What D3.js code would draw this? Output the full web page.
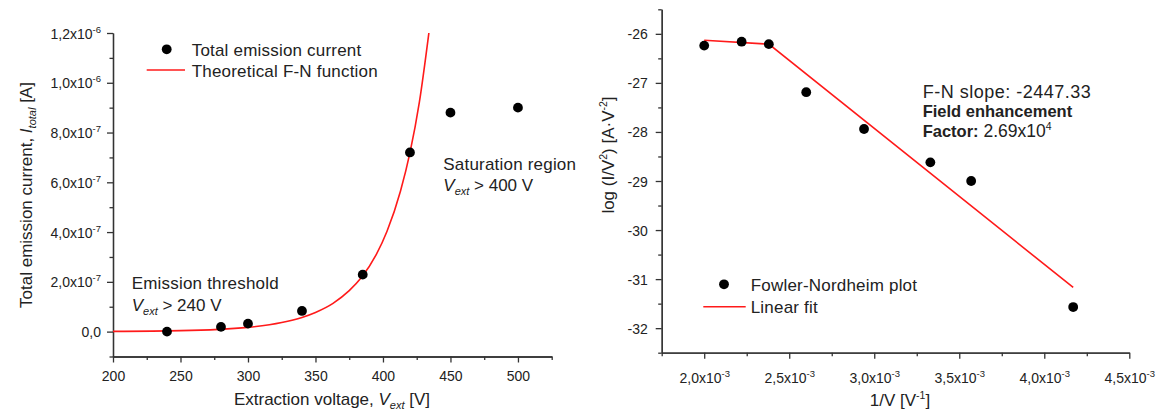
<!DOCTYPE html>
<html>
<head>
<meta charset="utf-8">
<script src="https://cdn.jsdelivr.net/npm/d3@7"></script>
<style>
  html, body { margin: 0; padding: 0; background: #fff; }
  svg { display: block; font-family: "Liberation Sans", Arial, sans-serif; }
  .axis path, .axis line { stroke: #333; stroke-width: 1.3; }
  .axis text { fill: #222; font-size: 14px; font-family: "Liberation Sans", Arial, sans-serif; }
  .lbl { fill: #222; font-size: 17px; }
</style>
</head>
<body>
<svg id="chart" width="1166" height="419"></svg>
<script>
// ---------- Left panel data ----------
const voltage = [240, 280, 300, 340, 385, 420, 450, 500];
const current = [0, 1.9e-8, 3.2e-8, 8.3e-8, 2.29e-7, 7.2e-7, 8.8e-7, 9.0e-7];
// theoretical F-N curve
const fnCurveV = [200, 250, 300, 325, 340, 350, 363, 375, 384, 395, 403, 413, 420, 427, 434];
const fnCurveI = [8.4e-10, 3.8e-9, 1.72e-8, 3.64e-8, 5.71e-8, 7.72e-8, 1.137e-7, 1.644e-7, 2.17e-7, 3.09e-7, 4.03e-7, 5.65e-7, 7.19e-7, 9.23e-7, 1.2e-6];
const leftXTicks = [200, 250, 300, 350, 400, 450, 500];
const leftXMinor = [225, 275, 325, 375, 425, 475, 525];
const leftYTicks = [0, 2e-7, 4e-7, 6e-7, 8e-7, 1.0e-6, 1.2e-6];
const leftYTickMant = ["0,0", "2,0x10", "4,0x10", "6,0x10", "8,0x10", "1,0x10", "1,2x10"];
const leftYTickExp = ["", "-7", "-7", "-7", "-7", "-6", "-6"];
const leftYMinor = [-1e-7, 1e-7, 3e-7, 5e-7, 7e-7, 9e-7, 1.1e-6];

// ---------- Right panel data ----------
const invV = [2.0e-3, 2.22e-3, 2.38e-3, 2.6e-3, 2.94e-3, 3.33e-3, 3.57e-3, 4.17e-3];
const logIV2 = [-26.24, -26.16, -26.21, -27.19, -27.94, -28.62, -29.00, -31.57];
const fitX = [2.0e-3, 2.38e-3, 4.17e-3];
const fitY = [-26.13, -26.21, -31.17];
const rightXTicks = [2.0e-3, 2.5e-3, 3.0e-3, 3.5e-3, 4.0e-3, 4.5e-3];
const rightXTickMant = ["2,0x10", "2,5x10", "3,0x10", "3,5x10", "4,0x10", "4,5x10"];
const rightXTickExp = ["-3", "-3", "-3", "-3", "-3", "-3"];
const rightXMinor = [1.75e-3, 2.25e-3, 2.75e-3, 3.25e-3, 3.75e-3, 4.25e-3];
const rightYTicks = [-26, -27, -28, -29, -30, -31, -32];
const rightYMinor = [-25.5, -26.5, -27.5, -28.5, -29.5, -30.5, -31.5, -32.5];

const svg = d3.select("#chart");
const RED = "#ff1a1a";

function addSup(sel, expArr) {
  sel.each(function(d, i) {
    const t = d3.select(this);
    const e = expArr[i];
    if (e) {
      t.append("tspan").attr("dy", -6).attr("font-size", "9.5px").text(e);
    }
  });
}

// ================= LEFT PANEL =================
const xL = d3.scaleLinear().domain([200, 525]).range([113, 551.7]);
const yL = d3.scaleLinear().domain([-1e-7, 1.2e-6]).range([356.5, 33]);

// minor ticks
svg.append("g").attr("class", "axis").attr("transform", `translate(0,${yL(-1e-7)})`)
  .call(d3.axisBottom(xL).tickValues(leftXMinor).tickSize(3.5).tickSizeOuter(0).tickFormat(""));
svg.append("g").attr("class", "axis").attr("transform", `translate(${xL(200)},0)`)
  .call(d3.axisLeft(yL).tickValues(leftYMinor).tickSize(3.5).tickSizeOuter(0).tickFormat(""));

const gxL = svg.append("g").attr("class", "axis").attr("transform", `translate(0,${yL(-1e-7)})`)
  .call(d3.axisBottom(xL).tickValues(leftXTicks).tickSize(6).tickSizeOuter(0).tickPadding(7).tickFormat(d => d));
gxL.selectAll("text").attr("dy", "0.85em");

const gyL = svg.append("g").attr("class", "axis").attr("transform", `translate(${xL(200)},0)`)
  .call(d3.axisLeft(yL).tickValues(leftYTicks).tickSize(6).tickSizeOuter(0).tickPadding(6)
    .tickFormat((d, i) => leftYTickMant[i]));
gyL.selectAll(".tick text").attr("dy", "0.36em");
addSup(gyL.selectAll(".tick text"), leftYTickExp);

// F-N curve
const curveData = fnCurveV.map((v, i) => [v, fnCurveI[i]]);
svg.append("path").datum(curveData)
  .attr("fill", "none").attr("stroke", RED).attr("stroke-width", 1.6)
  .attr("d", d3.line().x(d => xL(d[0])).y(d => yL(d[1])).curve(d3.curveMonotoneX));

// points
svg.append("g").selectAll("circle").data(voltage).join("circle")
  .attr("cx", d => xL(d)).attr("cy", (d, i) => yL(current[i])).attr("r", 4.9).attr("fill", "#000");

// legend
svg.append("circle").attr("cx", 166.7).attr("cy", 49.3).attr("r", 4.9).attr("fill", "#000");
svg.append("text").attr("class", "lbl").attr("x", 191.7).attr("y", 55.5).style("letter-spacing", "0.2px").text("Total emission current");
svg.append("line").attr("x1", 146.7).attr("x2", 185).attr("y1", 70).attr("y2", 70).attr("stroke", RED).attr("stroke-width", 1.6);
svg.append("text").attr("class", "lbl").attr("x", 191.7).attr("y", 76.5).style("letter-spacing", "0.2px").text("Theoretical F-N function");

// annotations
svg.append("text").attr("class", "lbl").attr("x", 131.7).attr("y", 289).style("letter-spacing", "0.2px").text("Emission threshold");
(function() {
  const t = svg.append("text").attr("class", "lbl").attr("x", 131.7).attr("y", 310.5);
  t.append("tspan").attr("font-style", "italic").text("V");
  t.append("tspan").attr("font-style", "italic").attr("font-size", "11px").attr("dy", 4).text("ext");
  t.append("tspan").attr("dy", -4).text(" > 240 V");
})();
svg.append("text").attr("class", "lbl").attr("x", 443.3).attr("y", 170).style("letter-spacing", "0.2px").text("Saturation region");
(function() {
  const t = svg.append("text").attr("class", "lbl").attr("x", 443.3).attr("y", 191);
  t.append("tspan").attr("font-style", "italic").text("V");
  t.append("tspan").attr("font-style", "italic").attr("font-size", "11px").attr("dy", 4).text("ext");
  t.append("tspan").attr("dy", -4).text(" > 400 V");
})();

// axis titles
(function() {
  const t = svg.append("text").attr("class", "lbl").attr("text-anchor", "middle")
    .attr("x", 332).attr("y", 405);
  t.append("tspan").text("Extraction voltage, ");
  t.append("tspan").attr("font-style", "italic").text("V");
  t.append("tspan").attr("font-style", "italic").attr("font-size", "11px").attr("dy", 4).text("ext");
  t.append("tspan").attr("dy", -4).text(" [V]");
})();
(function() {
  const t = svg.append("text").attr("class", "lbl").attr("text-anchor", "middle")
    .attr("transform", "translate(32,195) rotate(-90)");
  t.append("tspan").text("Total emission current, ");
  t.append("tspan").attr("font-style", "italic").text("I");
  t.append("tspan").attr("font-style", "italic").attr("font-size", "11px").attr("dy", 4).text("total");
  t.append("tspan").attr("dy", -4).text(" [A]");
})();

// ================= RIGHT PANEL =================
const xR = d3.scaleLinear().domain([1.75e-3, 4.5e-3]).range([661.7, 1129.3]);
const yR = d3.scaleLinear().domain([-32.5, -25.5]).range([352.7, 9.3]);

svg.append("g").attr("class", "axis").attr("transform", `translate(0,${yR(-32.5)})`)
  .call(d3.axisBottom(xR).tickValues(rightXMinor).tickSize(3.5).tickSizeOuter(0).tickFormat(""));
svg.append("g").attr("class", "axis").attr("transform", `translate(${xR(1.75e-3)},0)`)
  .call(d3.axisLeft(yR).tickValues(rightYMinor).tickSize(3.5).tickSizeOuter(0).tickFormat(""));

const gxR = svg.append("g").attr("class", "axis").attr("transform", `translate(0,${yR(-32.5)})`)
  .call(d3.axisBottom(xR).tickValues(rightXTicks).tickSize(6).tickSizeOuter(0).tickPadding(7)
    .tickFormat((d, i) => rightXTickMant[i]));
gxR.selectAll(".tick text").attr("dy", "1.25em");
addSup(gxR.selectAll(".tick text"), rightXTickExp);

const gyR = svg.append("g").attr("class", "axis").attr("transform", `translate(${xR(1.75e-3)},0)`)
  .call(d3.axisLeft(yR).tickValues(rightYTicks).tickSize(6).tickSizeOuter(0).tickPadding(8)
    .tickFormat(d => String(d)));
gyR.selectAll(".tick text").attr("dy", "0.36em");

// fit line
const fitData = fitX.map((x, i) => [x, fitY[i]]);
svg.append("path").datum(fitData)
  .attr("fill", "none").attr("stroke", RED).attr("stroke-width", 1.6)
  .attr("d", d3.line().x(d => xR(d[0])).y(d => yR(d[1])));

svg.append("g").selectAll("circle").data(invV).join("circle")
  .attr("cx", d => xR(d)).attr("cy", (d, i) => yR(logIV2[i])).attr("r", 4.9).attr("fill", "#000");

// legend
svg.append("circle").attr("cx", 724).attr("cy", 284.3).attr("r", 4.9).attr("fill", "#000");
svg.append("text").attr("class", "lbl").attr("x", 750.7).attr("y", 290.5).style("letter-spacing", "0.2px").text("Fowler-Nordheim plot");
svg.append("line").attr("x1", 703.3).attr("x2", 745.7).attr("y1", 306.7).attr("y2", 306.7).attr("stroke", RED).attr("stroke-width", 1.6);
svg.append("text").attr("class", "lbl").attr("x", 750.7).attr("y", 313).style("letter-spacing", "0.2px").text("Linear fit");

// annotation
svg.append("text").attr("class", "lbl").attr("x", 922.7).attr("y", 97.5)
  .style("font-size", "18px").style("letter-spacing", "0.5px").text("F-N slope: -2447.33");
svg.append("text").attr("class", "lbl").attr("x", 922.7).attr("y", 116.5)
  .attr("font-weight", "bold").style("font-size", "16.5px").text("Field enhancement");
(function() {
  const t = svg.append("text").attr("class", "lbl").attr("x", 922.7).attr("y", 136.5);
  t.append("tspan").attr("font-weight", "bold").style("font-size", "16.5px").text("Factor:");
  t.append("tspan").style("font-size", "17.5px").text(" 2.69x10");
  t.append("tspan").attr("font-size", "10.5px").attr("dy", -7).text("4");
})();

// axis titles
(function() {
  const t = svg.append("text").attr("class", "lbl").attr("text-anchor", "middle")
    .attr("x", 900).attr("y", 406);
  t.append("tspan").text("1/V [V");
  t.append("tspan").attr("font-size", "10.5px").attr("dy", -7).text("-1");
  t.append("tspan").attr("dy", 7).text("]");
})();
(function() {
  const t = svg.append("text").attr("class", "lbl").attr("text-anchor", "middle")
    .attr("transform", "translate(614,155) rotate(-90)");
  t.append("tspan").text("log (I/V");
  t.append("tspan").attr("font-size", "10.5px").attr("dy", -7).text("2");
  t.append("tspan").attr("dy", 7).text(") [A·V");
  t.append("tspan").attr("font-size", "10.5px").attr("dy", -7).text("-2");
  t.append("tspan").attr("dy", 7).text("]");
})();
</script>
</body>
</html>
